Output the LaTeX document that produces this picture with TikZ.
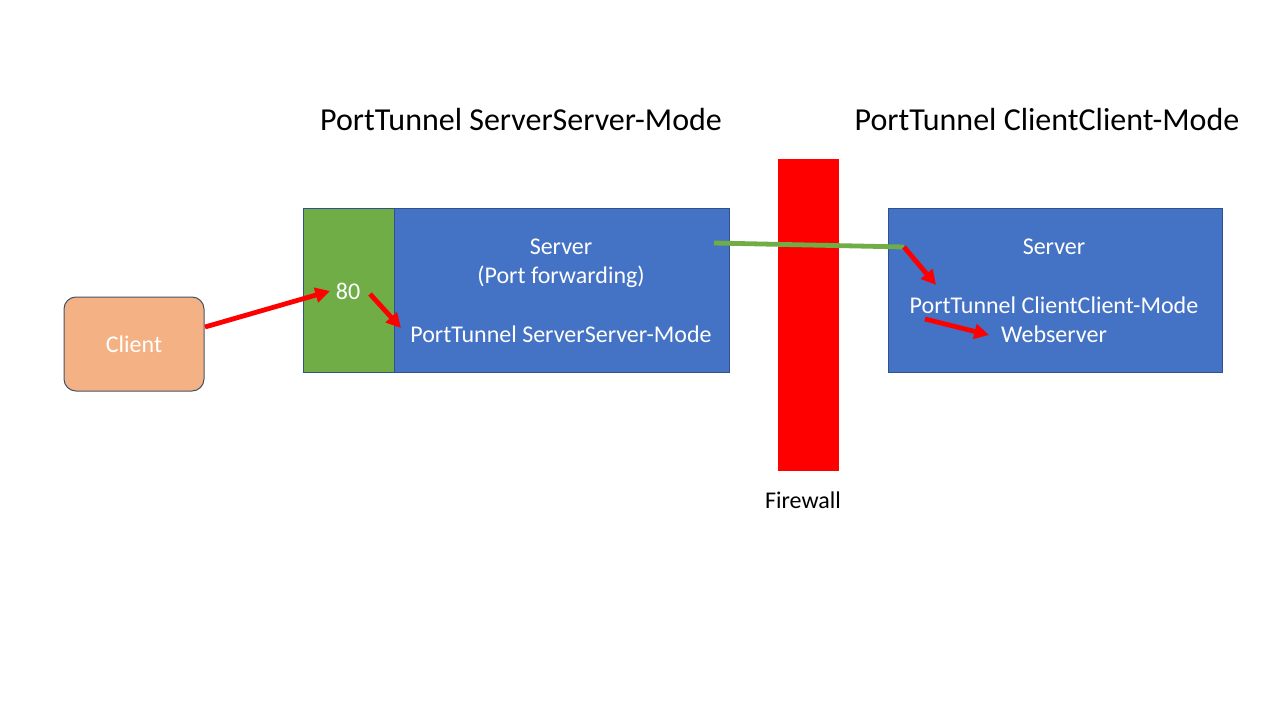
\documentclass[tikz,border=0pt]{standalone}
\usepackage{fontspec}
\setmainfont{Carlito}
\usetikzlibrary{arrows.meta}
\definecolor{srvblue}{HTML}{4472C4}
\definecolor{srvedge}{HTML}{2F528F}
\definecolor{portgreen}{HTML}{70AD47}
\definecolor{clientfill}{HTML}{F4B183}
\definecolor{clientedge}{HTML}{44546A}
\tikzset{
  srvbox/.style={rectangle, fill=srvblue, draw=srvedge, line width=0.75pt, minimum height=122.25pt},
  wtext/.style={text=white, font=\fontsize{18}{21.6}\selectfont},
  redarrow/.style={draw=red, line width=3.6pt, -{Triangle[length=11pt,width=11pt]}},
}
\begin{document}
\begin{tikzpicture}[x=0.75pt, y=-0.75pt]
        \useasboundingbox[fill=white] (0, 0) rectangle (1280, 720);

        % titles
        \node[font=\fontsize{24}{28.8}\selectfont] (titleS) at (521, 120) {PortTunnel ServerServer-Mode};
        \node[font=\fontsize{24}{28.8}\selectfont] (titleC) at (1047, 120) {PortTunnel ClientClient-Mode};

        % client
        \node[rectangle, rounded corners=9pt, fill=clientfill, draw=clientedge, line width=0.75pt,
              minimum width=105pt, minimum height=70.5pt, wtext] (client) at (134, 344) {Client};

        % server side
        \node[rectangle, fill=portgreen, draw=srvedge, line width=0.75pt,
              minimum width=68.25pt, minimum height=122.25pt] (port) at (348.5, 290.5) {};
        \node[srvbox, minimum width=251.25pt] (srvS) at (561.5, 290.5) {};
        \node[wtext] (p80) at (348, 291) {80};
        \node[wtext] (srvSname) at (561, 247) {Server};
        \node[wtext] (srvSfw) at (561, 277) {(Port forwarding)};
        \node[wtext] (srvSmode) at (561, 334) {PortTunnel ServerServer-Mode};

        % firewall
        \node[rectangle, fill=red, minimum width=45.75pt, minimum height=234pt] (fw) at (808.5, 315) {};
        \node[font=\fontsize{18}{21.6}\selectfont] (fwlabel) at (803, 500) {Firewall};

        % client side
        \node[srvbox, minimum width=250.5pt] (srvC) at (1055, 290.5) {};
        \node[wtext] (srvCname) at (1054, 247) {Server};
        \node[wtext] (srvCmode) at (1054, 305) {PortTunnel ClientClient-Mode};
        \node[wtext] (srvCweb) at (1054, 334) {Webserver};

        % tunnel
        \coordinate (tunA) at (714, 243);
        \coordinate (tunB) at (904, 247);
        \draw[portgreen, line width=3.6pt] (tunA) -- (tunB);

        % arrows
        \coordinate (c1) at (205, 327);
        \coordinate (c2) at (330, 291);
        \coordinate (c3) at (370, 294);
        \coordinate (c4) at (401, 328);
        \coordinate (c5) at (936, 285);
        \coordinate (c6) at (925, 319);
        \coordinate (c7) at (989, 335);
        \draw[redarrow] (c1) -- (c2);
        \draw[redarrow] (c3) -- (c4);
        \draw[redarrow] (tunB) -- (c5);
        \draw[redarrow] (c6) -- (c7);

    \end{tikzpicture}
\end{document}
